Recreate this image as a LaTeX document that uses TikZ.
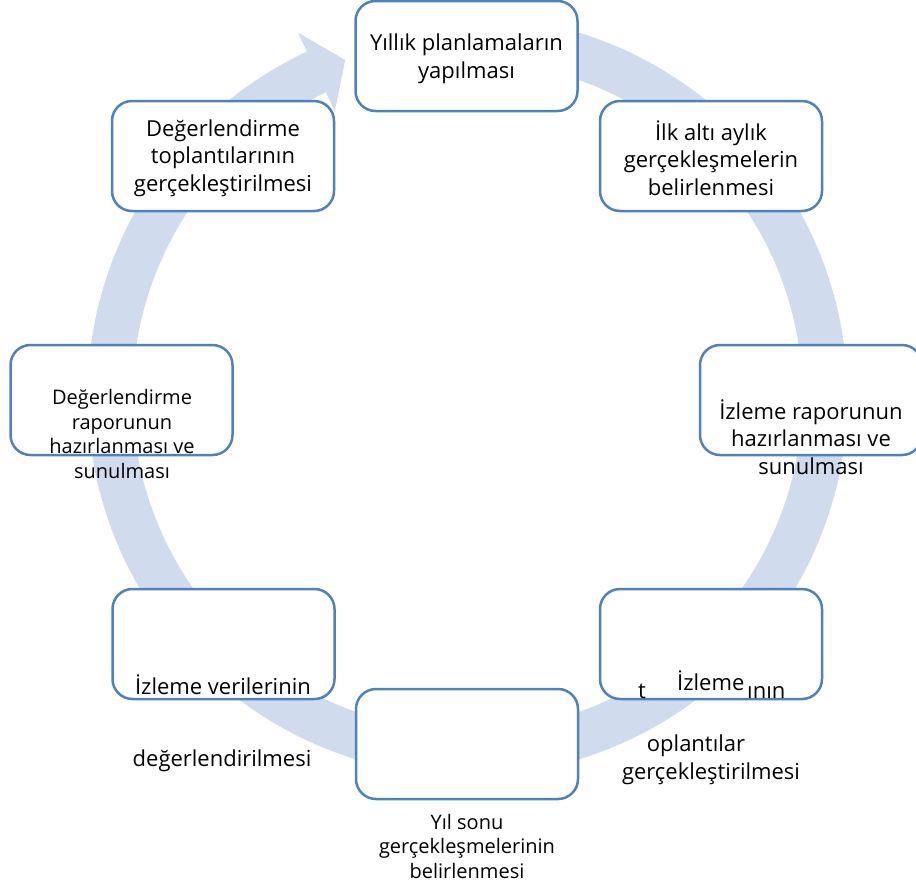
\documentclass[tikz,border=0pt]{standalone}
\usepackage{fontspec}
\setmainfont{Open Sans}
\usetikzlibrary{calc}
\definecolor{boxblue}{RGB}{79,129,189}
\definecolor{ringblue}{RGB}{208,220,237}
\tikzset{
    stage/.style={draw=boxblue, line width=2.5pt, rounded corners=20pt, fill=white,
        minimum width=222pt, minimum height=110pt, inner sep=0pt},
    bigtext/.style={font=\fontsize{22}{27.5}\selectfont, align=center, inner sep=0pt},
    smalltext/.style={font=\fontsize{20}{24.5}\selectfont, align=center, inner sep=0pt}
}
\begin{document}
\begin{tikzpicture}[x=1pt,y=-1pt]
    \useasboundingbox (0,0) rectangle (916,886);
    \clip (0,0) rectangle (916,886);

    % circular arrow behind the stages
    \coordinate (c) at (467.5,396);
    \fill[ringblue] ($(c)+(-100:380)$) arc[start angle=-100, end angle=245, radius=380]
        -- ($(c)+(245:401)$) -- ($(c)+(250:357.5)$) -- ($(c)+(245:314)$) -- ($(c)+(245:335)$)
        arc[start angle=245, end angle=-100, radius=335] -- cycle;

    % stages
    \node[stage] (plan) at (466.5,56) {};
    \node[stage] (six) at (711,156) {};
    \node[stage] (meet) at (223,156) {};
    \node[stage] (irep) at (811,400) {};
    \node[stage] (drep) at (121.5,400) {};
    \node[stage] (imeet) at (711,644) {};
    \node[stage] (data) at (223.5,644) {};
    \node[stage] (year) at (467,744) {};

    % texts
    \node[bigtext] (plantext) at (466.5,59) {Yıllık planlamaların\\yapılması};
    \node[bigtext] (sixtext) at (711,158) {İlk altı aylık\\gerçekleşmelerin\\belirlenmesi};
    \node[bigtext] (meettext) at (223,158) {Değerlendirme\\toplantılarının\\gerçekleştirilmesi};
    \node[bigtext] (ireptext) at (811,437) {İzleme raporunun\\hazırlanması ve\\sunulması};
    \node[smalltext] (dreptext) at (122,434) {Değerlendirme\\raporunun\\hazırlanması ve\\sunulması};
    \node[bigtext, anchor=base] (data1) at (223,694) {İzleme verilerinin};
    \node[bigtext, anchor=base] (data2) at (222,766) {değerlendirilmesi};
    \node[bigtext, anchor=base] (imeet1) at (642,698) {t};
    \node[bigtext, anchor=base west] (imeet2) at (677,690) {İzleme};
    \node[bigtext, anchor=base west] (imeet3) at (747,698) {ının};
    \node[bigtext, anchor=base] (imeet4) at (696,751) {oplantılar};
    \node[bigtext, anchor=base] (imeet5) at (711,779) {gerçekleştirilmesi};
    \node[smalltext] (yeartext) at (467,846) {Yıl sonu\\gerçekleşmelerinin\\belirlenmesi};
\end{tikzpicture}
\end{document}
